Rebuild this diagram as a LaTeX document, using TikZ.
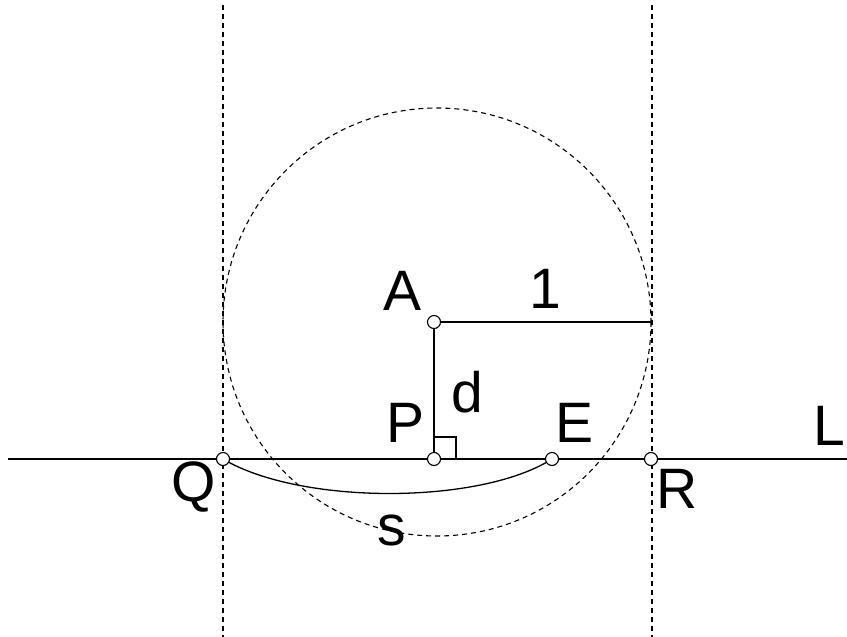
\documentclass[tikz,border=0pt]{standalone}
\usepackage{fontspec}
\setmainfont{Liberation Sans}
\begin{document}
\begin{tikzpicture}[x=1pt,y=-1pt,
  ln/.style={line width=1.3pt},
  dsh/.style={line width=1.1pt, dash pattern=on 5pt off 4pt},
  pt/.style={circle, draw, fill=white, line width=1.1pt, minimum size=13pt, inner sep=0pt},
  lbl/.style={font=\fontsize{57}{57}\selectfont, inner sep=0pt, anchor=base}]
\useasboundingbox (0,0) rectangle (847,637);
% dashed lines and circle
\coordinate (V1t) at (223,5); \coordinate (V1b) at (223,637);
\coordinate (V2t) at (652,5); \coordinate (V2b) at (652,637);
\draw[dsh] (V1t) -- (V1b);
\draw[dsh] (V2t) -- (V2b);
\draw[dsh] (437,322) circle[radius=214];
% line L
\coordinate (Ll) at (8,459); \coordinate (Lr) at (847,459);
\draw[ln] (Ll) -- (Lr);
% points
\coordinate (Ac) at (434,322);
\coordinate (Pc) at (434,459);
\coordinate (Qc) at (223,459);
\coordinate (Ec) at (552,459);
\coordinate (Rc) at (651,459);
\coordinate (T) at (651,322);
\draw[ln] (Ac) -- (T);
\draw[ln] (Ac) -- (Pc);
\draw[ln] (434,437) -| (456,459);
\draw[ln] (Qc) .. controls (300,505) and (480,505) .. (Ec);
\node[pt] (A) at (Ac) {};
\node[pt] (P) at (Pc) {};
\node[pt] (Q) at (Qc) {};
\node[pt] (E) at (Ec) {};
\node[pt] (R) at (Rc) {};
% labels
\node[lbl] (lA) at (403,310) {A};
\node[lbl] (l1) at (545,308) {1};
\node[lbl] (ld) at (467,412) {d};
\node[lbl] (lP) at (406,442) {P};
\node[lbl] (lE) at (575,442) {E};
\node[lbl] (lL) at (829,445) {L};
\node[lbl] (lQ) at (194,501) {Q};
\node[lbl] (lR) at (677,508) {R};
\node[lbl] (ls) at (392,545) {s};
\end{tikzpicture}
\end{document}
